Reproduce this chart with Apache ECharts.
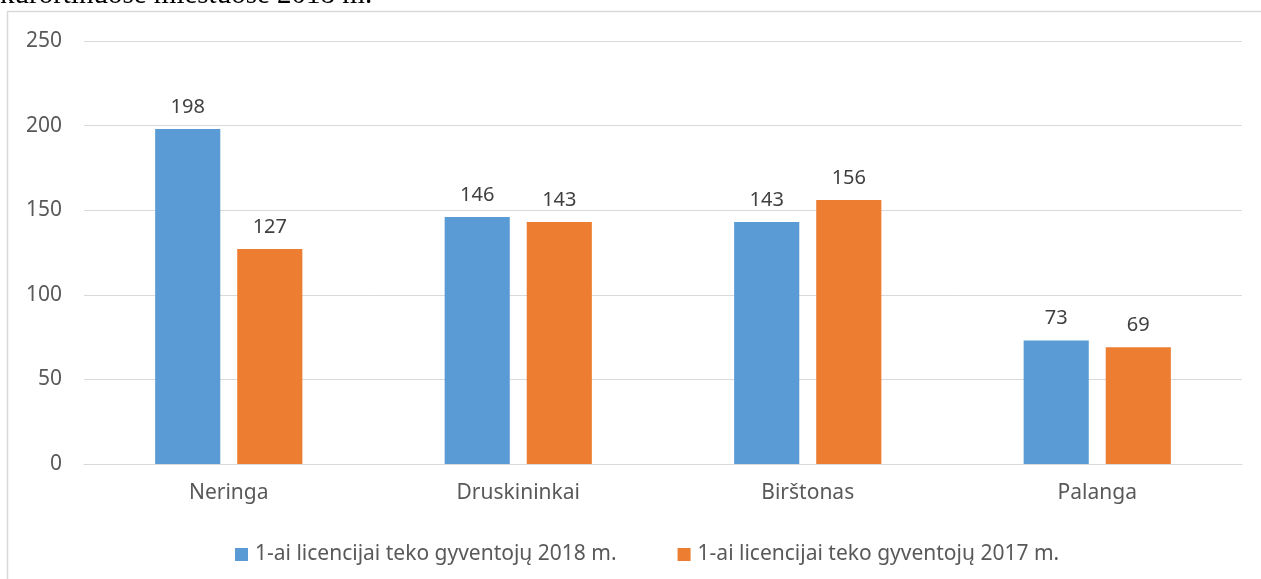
<!DOCTYPE html>
<html>
<head>
<meta charset="utf-8">
<script src="https://cdn.jsdelivr.net/npm/echarts@6/dist/echarts.min.js"></script>
<style>
html, body { margin: 0; padding: 0; background: #fff; }
#box { width: 1261px; height: 579px; }
</style>
</head>
<body>
<div id="box"></div>
<script>
var cities = ['Neringa', 'Druskininkai', 'Birštonas', 'Palanga']
var values2018 = [198, 146, 143, 73]
var values2017 = [127, 143, 156, 69]
var seriesNames = ['1-ai licencijai teko gyventojų 2018 m.', '1-ai licencijai teko gyventojų 2017 m.']
var yTicks = [0, 50, 100, 150, 200, 250]

var chart = echarts.init(document.getElementById('box'))

var labelStyle = {
    show: true,
    position: 'top',
    distance: 12,
    color: '#404040',
    fontSize: 20,
    fontFamily: 'Noto Sans'
}

chart.setOption({
    animation: false,
    textStyle: { fontFamily: 'Noto Sans' },
    graphic: [
        {
            type: 'rect',
            shape: { x: 7.5, y: 11.5, width: 1300, height: 700 },
            style: { fill: 'none', stroke: '#d9d9d9', lineWidth: 1.5 },
            silent: true
        },
        {
            type: 'text',
            x: 0,
            y: 10,
            style: {
                text: 'kurortinuose miestuose 2018 m.',
                font: '29px "Liberation Serif"',
                fill: '#000',
                verticalAlign: 'bottom'
            }
        }
    ],
    legend: {
        data: seriesNames,
        top: 539,
        left: 230,
        itemWidth: 13,
        itemHeight: 13,
        itemGap: 61,
        icon: 'rect',
        textStyle: { color: '#595959', fontSize: 21, padding: [0, 0, 0, 2] }
    },
    grid: {
        left: 84,
        right: 19,
        top: 41,
        bottom: 115
    },
    xAxis: {
        type: 'category',
        data: cities,
        axisLine: { lineStyle: { color: '#d9d9d9' } },
        axisTick: { show: false },
        axisLabel: { color: '#595959', fontSize: 21, margin: 19 }
    },
    yAxis: {
        type: 'value',
        min: yTicks[0],
        max: yTicks[yTicks.length - 1],
        interval: 50,
        axisLine: { show: false },
        axisTick: { show: false },
        axisLabel: { color: '#595959', fontSize: 21, margin: 22 },
        splitLine: { lineStyle: { color: '#d9d9d9' } }
    },
    series: [
        {
            name: seriesNames[0],
            type: 'bar',
            data: values2018,
            barWidth: '22.5%',
            barGap: '26%',
            itemStyle: { color: '#5b9bd5' },
            label: labelStyle
        },
        {
            name: seriesNames[1],
            type: 'bar',
            data: values2017,
            barWidth: '22.5%',
            itemStyle: { color: '#ed7d31' },
            label: labelStyle
        }
    ]
})
</script>
</body>
</html>
